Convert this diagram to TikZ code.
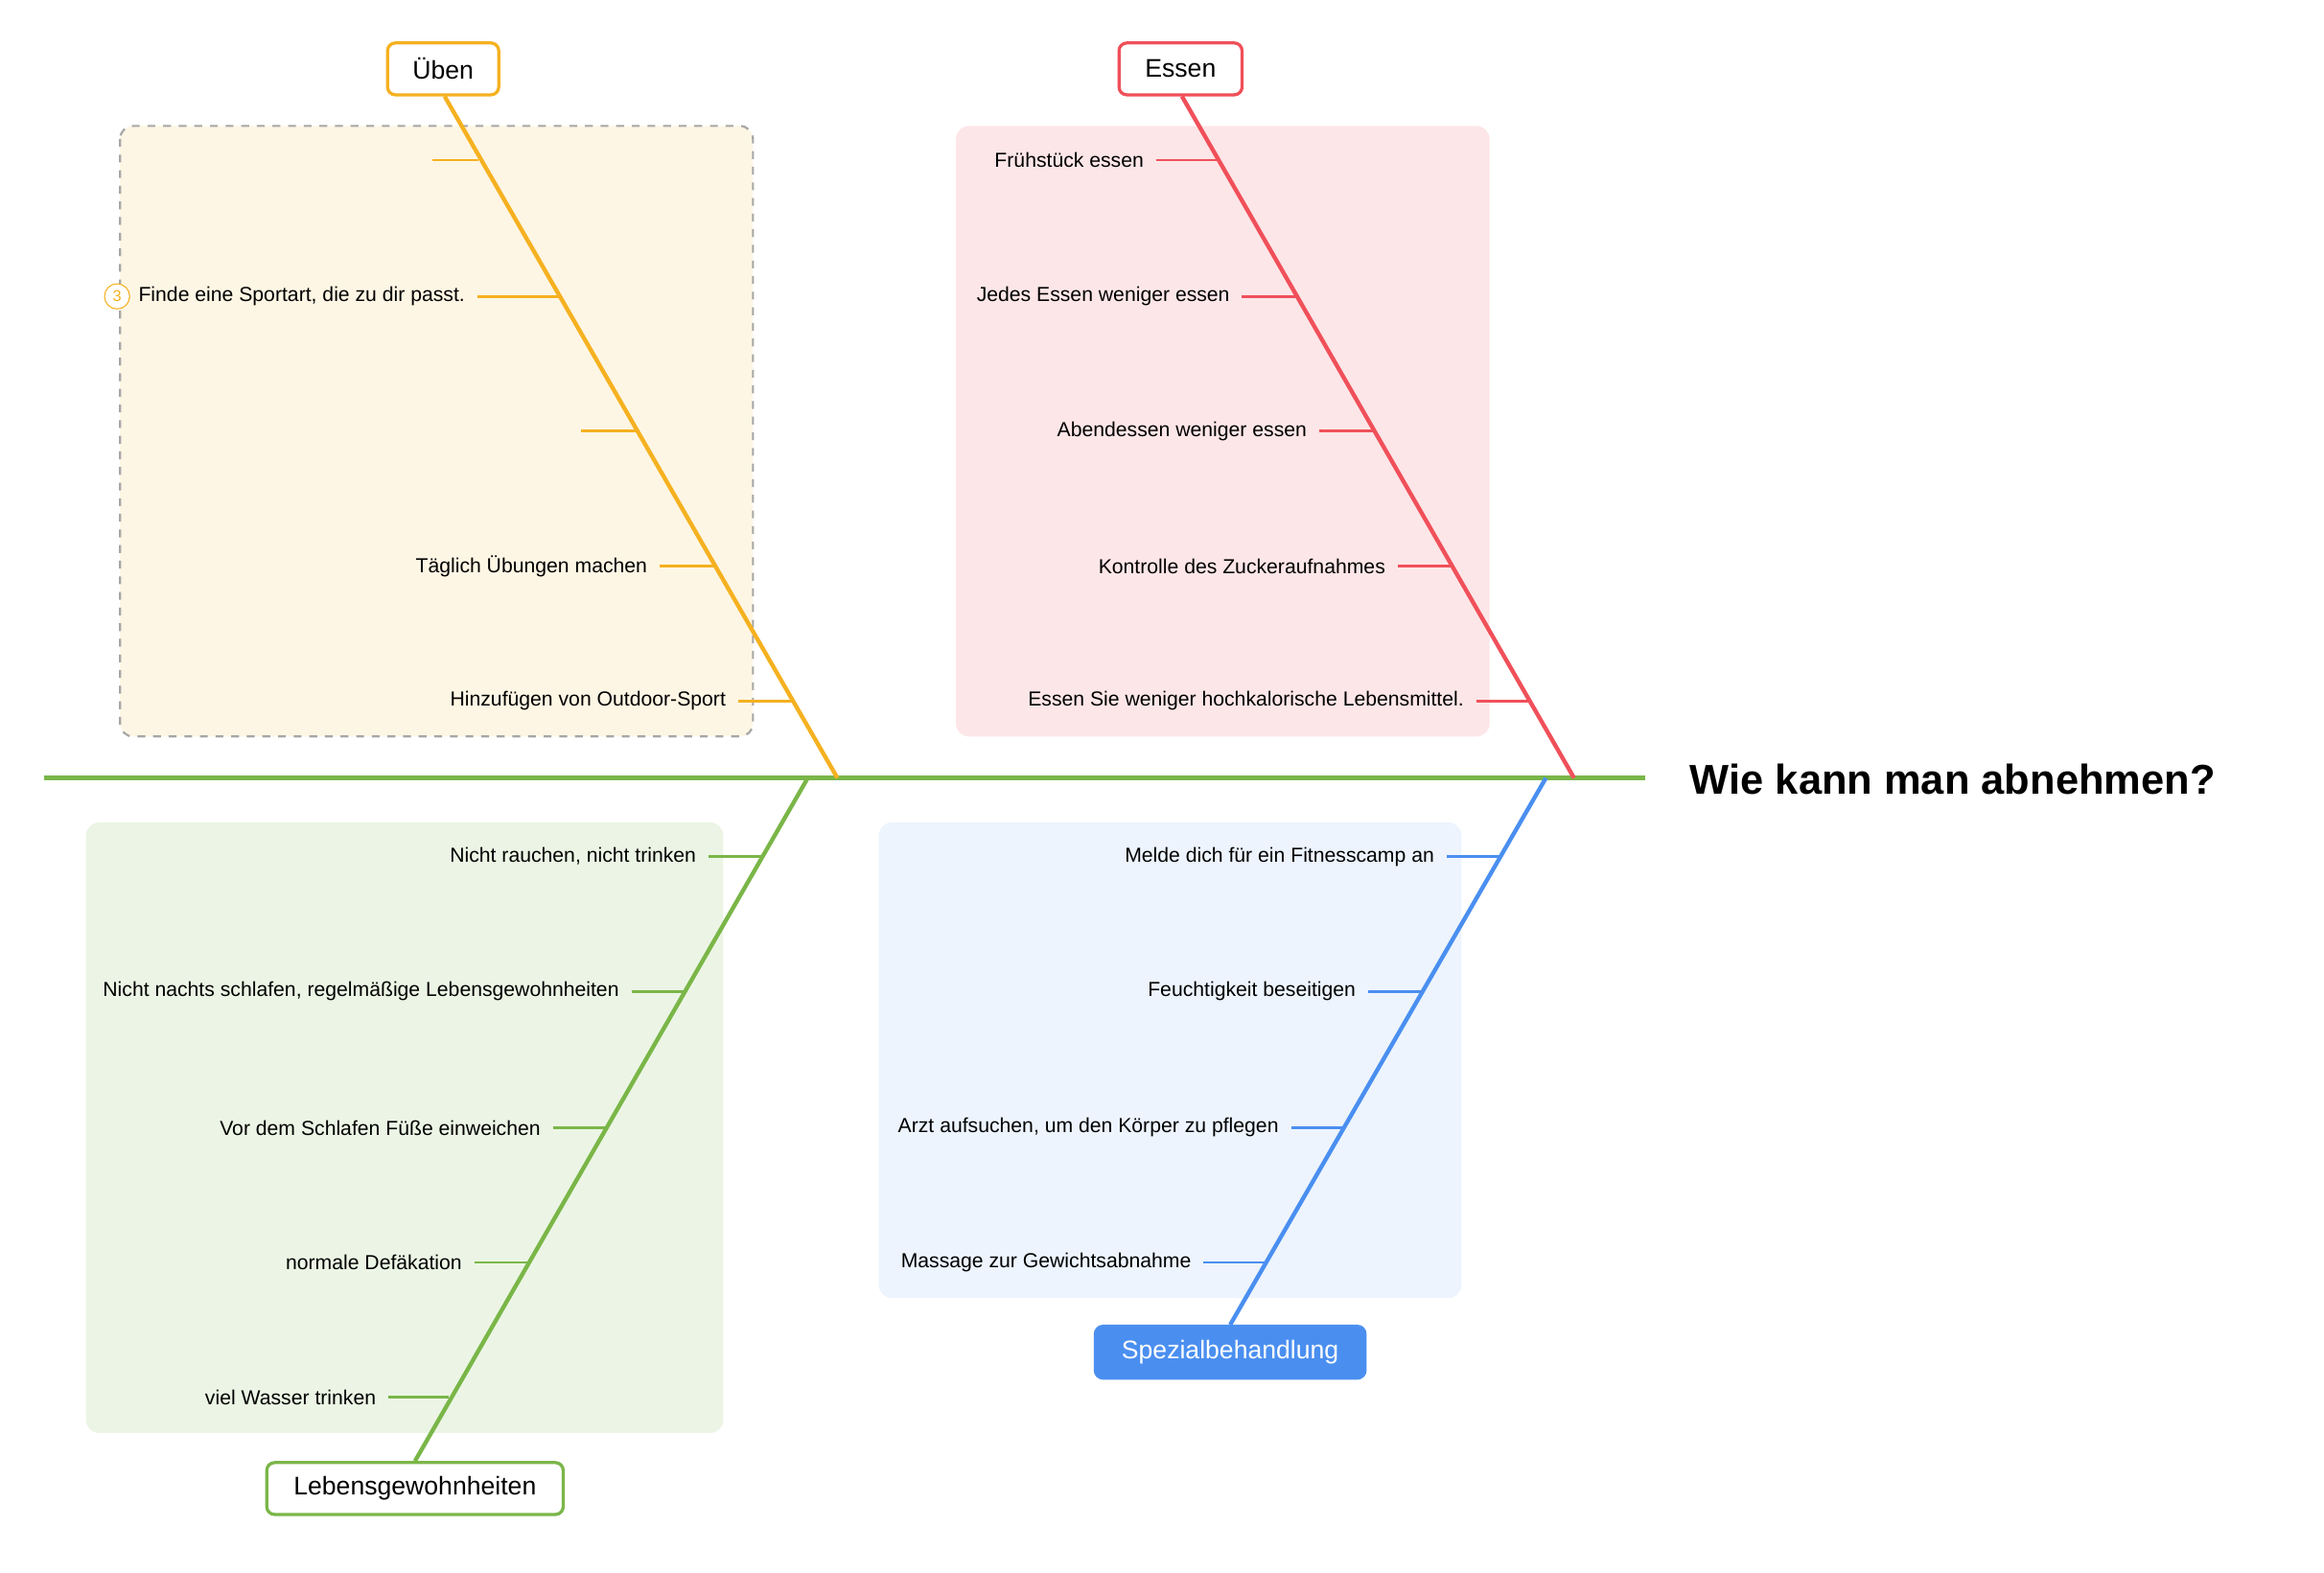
\documentclass[tikz,border=0pt]{standalone}
\usepackage{fontspec}
\setmainfont{Liberation Sans}
\begin{document}
\begin{tikzpicture}[x=0.02cm,y=-0.02cm,
  lbl/.style={anchor=east,font=\fontsize{7.8}{9}\selectfont,inner sep=0pt},
  head/.style={draw,rounded corners=3pt,line width=1.2pt,fill=white,font=\fontsize{9.8}{11}\selectfont,inner sep=0pt},
  br/.style={line width=1.6pt},
  tick/.style={line width=1pt}]
\definecolor{cor}{HTML}{F5B120}
\definecolor{cre}{HTML}{F0505A}
\definecolor{cgr}{HTML}{7AB648}
\definecolor{cbl}{HTML}{4A8FF0}
\useasboundingbox (0,0) rectangle (1568,1061.5);
\fill[white] (0,0) rectangle (1568,1061.5);
% boxes
\draw[rounded corners=5pt,fill=cor!12,draw=gray!70,dashed,line width=0.8pt] (81,85) rectangle (508,497);
\fill[rounded corners=5pt,fill=cre!14] (645,85) rectangle (1005,497);
\fill[rounded corners=5pt,fill=cgr!14] (58,555) rectangle (488,967);
\fill[rounded corners=5pt,fill=cbl!10] (593,555) rectangle (986,876);
% spine
\node[anchor=west,font=\bfseries\fontsize{16}{18}\selectfont,inner sep=0pt] (title) at (1140,526) {Wie kann man abnehmen?};
\coordinate (s0) at (30,525);
\coordinate (s1) at (1110,525);
\draw[cgr,line width=1.8pt] (s0) -- (s1);
% heads
\node[head,draw=cor] (uben) at (299,46.5) {\parbox[c][35\dimexpr0.02cm\relax][c]{75\dimexpr0.02cm\relax}{\centering Üben}};
\node[head,draw=cre] (essen) at (796.5,46.5) {\parbox[c][35\dimexpr0.02cm\relax][c]{83\dimexpr0.02cm\relax}{\centering Essen}};
\node[head,draw=cgr] (leben) at (280,1004.5) {\parbox[c][35\dimexpr0.02cm\relax][c]{200\dimexpr0.02cm\relax}{\centering Lebensgewohnheiten}};
\node[head,draw=cbl,fill=cbl,text=white] (spez) at (830,912.5) {\parbox[c][35\dimexpr0.02cm\relax][c]{182\dimexpr0.02cm\relax}{\centering Spezialbehandlung}};
% main branches
\coordinate (ue) at (565,525);
\coordinate (ee) at (1062,525);
\coordinate (le) at (545,525);
\coordinate (se) at (1043,525);
\draw[br,cor] (uben.south) ++(1,0) coordinate (ub) -- (ue);
\draw[br,cre] (essen.south) ++(1,0) coordinate (eb) -- (ee);
\draw[br,cgr] (le) -- (leben.north);
\draw[br,cbl] (se) -- (spez.north);
% Üben ticks
\foreach \y/\a/\b/\t [count=\i] in {108/292/323/{},200/322/377/{Finde eine Sportart, die zu dir passt.},291/392/429/{},382/445/482/{Täglich Übungen machen},473/498/535/{Hinzufügen von Outdoor-Sport}}{
  \coordinate (ua\i) at (\a,\y); \coordinate (ub\i) at (\b,\y);
  \draw[tick,cor] (ua\i) -- (ub\i);
  \node[lbl] (ut\i) at ([xshift=-8*0.02cm]ua\i) {\t};
}
\node[circle,draw=cor,fill=white,text=cor,inner sep=0pt,minimum size=17*0.02cm,font=\fontsize{6}{7}\selectfont] (num) at (79,200) {3};
% Essen ticks
\foreach \y/\a/\b/\t [count=\i] in {108/780/822/{Frühstück essen},200/838/875/{Jedes Essen weniger essen},291/890/927/{Abendessen weniger essen},382/943/980/{Kontrolle des Zuckeraufnahmes},473/996/1032/{Essen Sie weniger hochkalorische Lebensmittel.}}{
  \coordinate (ea\i) at (\a,\y); \coordinate (eb\i) at (\b,\y);
  \draw[tick,cre] (ea\i) -- (eb\i);
  \node[lbl] (et\i) at ([xshift=-8*0.02cm]ea\i) {\t};
}
% Leben ticks
\foreach \y/\a/\b/\t [count=\i] in {578/478/515/{Nicht rauchen, nicht trinken},669/426/462/{Nicht nachts schlafen, regelmäßige Lebensgewohnheiten},761/373/409/{Vor dem Schlafen Füße einweichen},852/320/356/{normale Defäkation},943/262/303/{viel Wasser trinken}}{
  \coordinate (la\i) at (\a,\y); \coordinate (lb\i) at (\b,\y);
  \draw[tick,cgr] (la\i) -- (lb\i);
  \node[lbl] (lt\i) at ([xshift=-8*0.02cm]la\i) {\t};
}
% Spez ticks
\foreach \y/\a/\b/\t [count=\i] in {578/976/1013/{Melde dich für ein Fitnesscamp an},669/923/960/{Feuchtigkeit beseitigen},761/871/907/{Arzt aufsuchen, um den Körper zu pflegen},852/812/854/{Massage zur Gewichtsabnahme}}{
  \coordinate (sa\i) at (\a,\y); \coordinate (sb\i) at (\b,\y);
  \draw[tick,cbl] (sa\i) -- (sb\i);
  \node[lbl] (st\i) at ([xshift=-8*0.02cm]sa\i) {\t};
}
\end{tikzpicture}
\end{document}
